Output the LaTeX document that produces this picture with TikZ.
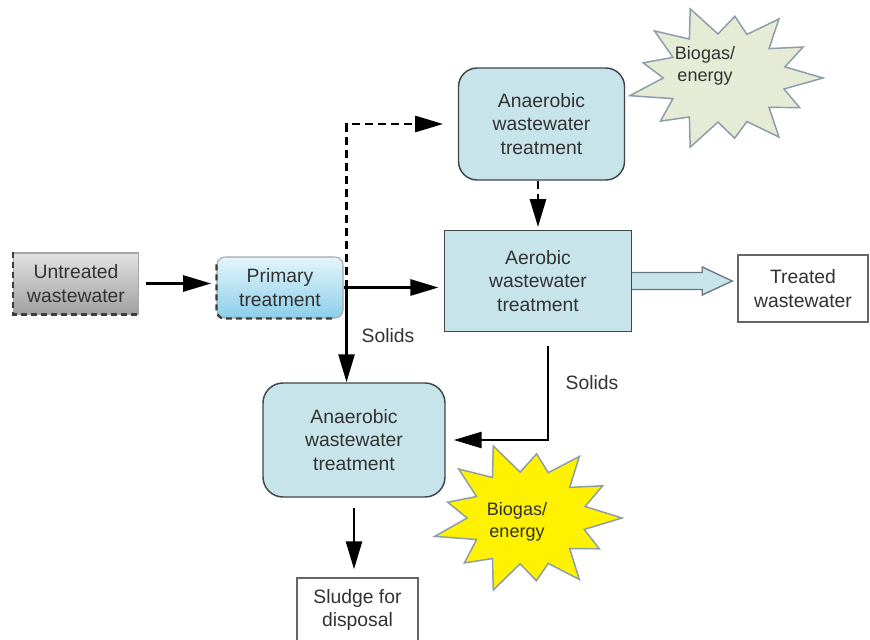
\documentclass[tikz,border=0pt]{standalone}
\usepackage{fontspec}
\setmainfont{Liberation Sans}
\usetikzlibrary{arrows.meta,calc}
\definecolor{boxblue}{RGB}{199,228,234}
\definecolor{edgegray}{RGB}{62,70,74}
\definecolor{txtgray}{RGB}{50,50,50}
\definecolor{dashgray}{RGB}{60,60,60}
\definecolor{burstedge}{RGB}{140,156,168}
\definecolor{sage}{RGB}{230,235,214}
\definecolor{sunyellow}{RGB}{255,242,0}
\definecolor{arrowedge}{RGB}{105,120,128}
\definecolor{primtop}{RGB}{228,245,251}
\definecolor{primbottom}{RGB}{140,206,234}
\definecolor{rawtop}{RGB}{226,226,226}
\definecolor{rawbottom}{RGB}{160,160,160}
% irregular star outline: angle / relative radius, starting after angle 0
\newcommand\burstshape{13.85/0.62, 27.7/0.86, 41.5/0.6, 55.4/0.97, 69.2/0.63, 83.1/0.82, 96.9/0.6, 110.8/1.0, 124.6/0.64, 138.5/0.88, 152.3/0.6, 166.2/1.0, 180/0.63, 193.8/0.86, 207.7/0.6, 221.5/0.96, 235.4/0.64, 249.2/1.0, 263.1/0.6, 276.9/0.84, 290.8/0.63, 304.6/0.97, 318.5/0.6, 332.3/0.9, 346.2/0.63}
\begin{document}
\begin{tikzpicture}[x=0.75pt,y=-0.75pt,
  txt/.style={font=\fontsize{14.5pt}{17.5pt}\selectfont, text=txtgray, align=center},
  box/.style={txt, draw=edgegray, line width=1.1pt, inner sep=0pt},
  bluebox/.style={box, fill=boxblue, rounded corners=14pt},
  whitebox/.style={box, draw=gray!80!black, fill=white},
  flow/.style={line width=2pt, draw=black, -{Triangle[length=21pt,width=12pt]}},
  dflow/.style={flow, dash pattern=on 6pt off 3.75pt},
  dashedge/.style={line width=1.7pt, dash pattern=on 4.5pt off 3pt, draw=dashgray},
  burst/.style={line width=1.1pt, draw=burstedge},
  bursttext/.style={txt, font=\fontsize{13.5pt}{16.5pt}\selectfont}]
\useasboundingbox (0,0) rectangle (870,639);
\fill[white] (0,0) rectangle (870,639);

% energy bursts
\begin{scope}[shift={(725,78)}]
  \draw[burst, fill=sage] (98,0) \foreach \a/\r in \burstshape { -- ({98*\r*cos(\a)},{74*\r*sin(\a)}) } -- cycle;
\end{scope}
\node[bursttext] (gasT) at (705,66) {Biogas/\\energy};
\begin{scope}[shift={(527,518)}]
  \draw[burst, fill=sunyellow] (95,0) \foreach \a/\r in \burstshape { -- ({95*\r*cos(\a)},{77*\r*sin(\a)}) } -- cycle;
\end{scope}
\node[bursttext] (gasB) at (517,522) {Biogas/\\energy};

% process boxes
\node[box, draw=gray!70, line width=0.8pt, top color=rawtop, bottom color=rawbottom,
      minimum width=93.75pt, minimum height=45.75pt] (raw) at (76,283.5) {Untreated\\wastewater};
\draw[dashedge] (raw.north west) -- (raw.south west) -- (raw.south east);

\node[box, draw=gray!70, line width=0.8pt, rounded corners=6pt, top color=primtop, bottom color=primbottom,
      minimum width=94.5pt, minimum height=45.75pt] (prim) at (280,287.5) {Primary\\treatment};
\draw[dashedge, rounded corners=6pt] ($(prim.north west)+(0,8)$) -- (prim.south west) -- ($(prim.south east)+(-8,0)$);

\node[bluebox, minimum width=124.5pt, minimum height=84pt] (anaT) at (541.5,124) {Anaerobic\\wastewater\\treatment};
\node[box, fill=boxblue, minimum width=140.25pt, minimum height=75.75pt] (aer) at (538,281) {Aerobic\\wastewater\\treatment};
\node[whitebox, minimum width=97.5pt, minimum height=50.25pt] (tw) at (803,288.5) {Treated\\wastewater};
\node[bluebox, rounded corners=15pt, minimum width=136.5pt, minimum height=85.5pt] (anaB) at (354,440) {Anaerobic\\wastewater\\treatment};
\node[whitebox, minimum width=90.75pt, minimum height=48pt] (sludge) at (357.5,610) {Sludge for\\disposal};

% flows
\coordinate (jn) at ($(prim.east)+(3,0)$);
\draw[flow, shorten <=5pt, shorten >=4pt] (raw.east) -- (raw.east -| prim.west);
\draw[flow, shorten >=4pt] (prim.east) -- (prim.east -| aer.west);
\draw[dflow, shorten >=11pt] (jn) -- (jn |- anaT.west) -- (anaT.west);
\draw[dflow, shorten >=2pt] (anaT.south -| aer.north) -- (aer.north);
\draw[flow] (jn) -- (jn |- anaB.north);
\node[txt] (sol1) at (388,336) {Solids};
\coordinate (aerout) at ($(aer.south)+(10,14)$);
\draw[flow, shorten >=6pt] (aerout) |- (anaB.east);
\node[txt] (sol2) at (592,383) {Solids};
\draw[flow, shorten <=8pt, shorten >=6pt] (anaB.south) -- (anaB.south |- sludge.north);

% effluent arrow
\coordinate (tip) at ($(tw.west |- aer.east)+(-5,0)$);
\coordinate (hb) at ($(tip)+(-30,0)$);
\draw[draw=arrowedge, line width=1pt, fill=boxblue, line join=miter]
  ($(aer.east)+(0,-8.5)$) -- ($(hb)+(0,-8.5)$) -- ($(hb)+(0,-14)$) -- (tip)
  -- ($(hb)+(0,14)$) -- ($(hb)+(0,8.5)$) -- ($(aer.east)+(0,8.5)$);
\end{tikzpicture}
\end{document}
